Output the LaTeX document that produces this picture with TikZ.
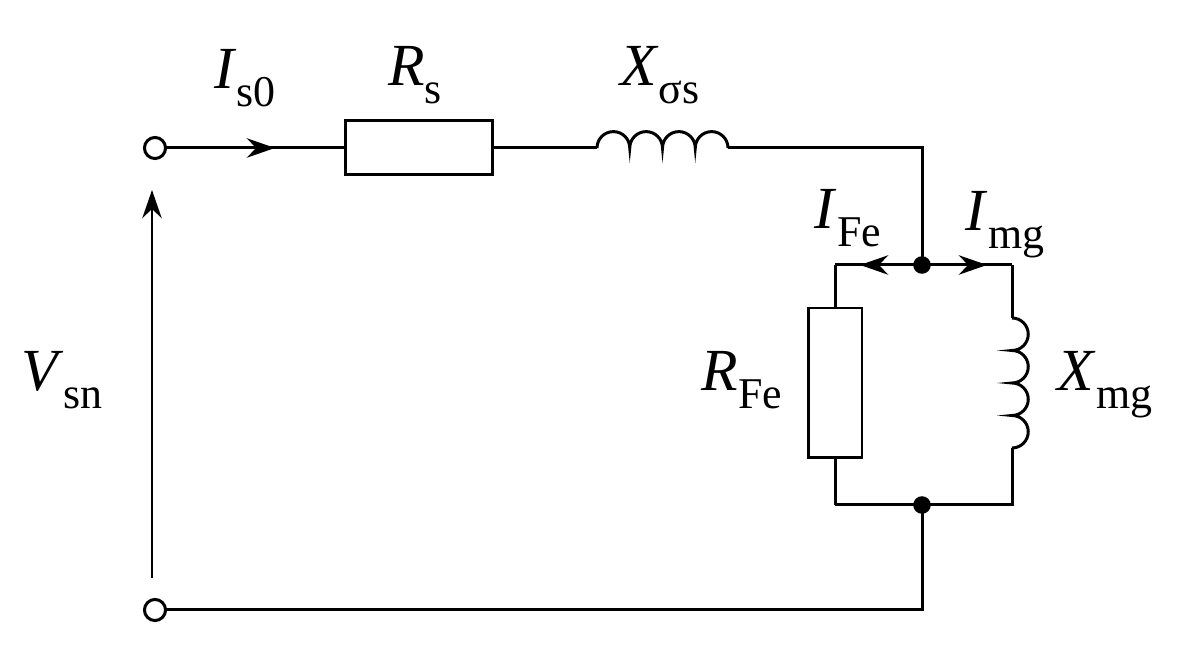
\documentclass[tikz,border=0pt]{standalone}
\usepackage{fontspec}
\setmainfont{Liberation Serif}
\usetikzlibrary{arrows.meta}
\newcommand{\lab}[2]{\textit{#1}\raisebox{-0.3em}{\fontsize{25}{30}\selectfont #2}}
\begin{document}
\begin{tikzpicture}[x=0.02cm,y=0.02cm,line width=1.7pt,
  lbl/.style={font=\fontsize{34}{40}\selectfont},
  tip/.style={-{Stealth[length=16pt,width=11pt]}},
  term/.style={circle,draw,fill=white,inner sep=0pt,minimum size=12pt},
  dot/.style={circle,fill,inner sep=0pt,minimum size=10pt}]
\useasboundingbox (0,0) rectangle (1204,648);
\coordinate (A) at (922,500);
\coordinate (B) at (1012,383);
\coordinate (C) at (835,383);
\coordinate (D) at (835,143);
\coordinate (E) at (1012,143);
\coordinate (F) at (922,38);
\node[draw,inner sep=0pt,minimum width=2.96cm,minimum height=1.08cm] (Rs) at (419,500) {};
\node[draw,inner sep=0pt,minimum width=1.08cm,minimum height=3cm] (RFe) at (835,265) {};
\coordinate (L1a) at (597,500);
\coordinate (L1b) at (728,500);
\coordinate (L2a) at (1012,330);
\coordinate (L2b) at (1012,200);
\draw (162,500) -- (Rs.west);
\draw (Rs.east) -- (L1a);
\draw (L1a) arc (180:0:16.375) arc (180:0:16.375) arc (180:0:16.375) arc (180:0:16.375);
\draw (L1b) -- (A |- L1b) -- (922,383);
\draw (C) -- (B);
\draw (C) -- (RFe.north);
\draw (RFe.south) -- (D);
\draw (B) -- (L2a);
\draw (L2a) arc (90:-90:16.25) arc (90:-90:16.25) arc (90:-90:16.25) arc (90:-90:16.25);
\draw (L2b) -- (E) -- (D);
\draw (922,143) -- (F) -- (162,38);
\node[term] (T1) at (155,500) {};
\node[term] (T2) at (155,38) {};
\node[dot] (N1) at (922,383) {};
\node[dot] (N2) at (922,143) {};
\draw[tip] (250,500) -- (275,500);
\draw[tip] (905,383) -- (860,383);
\draw[tip] (939,383) -- (987,383);
\draw[tip] (152,70) -- (152,458);
\node[lbl] at (245,570) {\lab{I}{s0}};
\node[lbl] at (415,573) {\lab{R}{s}};
\node[lbl] at (660,573) {\lab{X}{σs}};
\node[lbl] at (848,430) {\lab{I}{Fe}};
\node[lbl] at (1005,423) {\lab{I}{mg}};
\node[lbl] at (742,268) {\lab{R}{Fe}};
\node[lbl] at (1105,263) {\lab{X}{mg}};
\node[lbl] at (62,268) {\lab{V}{sn}};
\end{tikzpicture}
\end{document}
